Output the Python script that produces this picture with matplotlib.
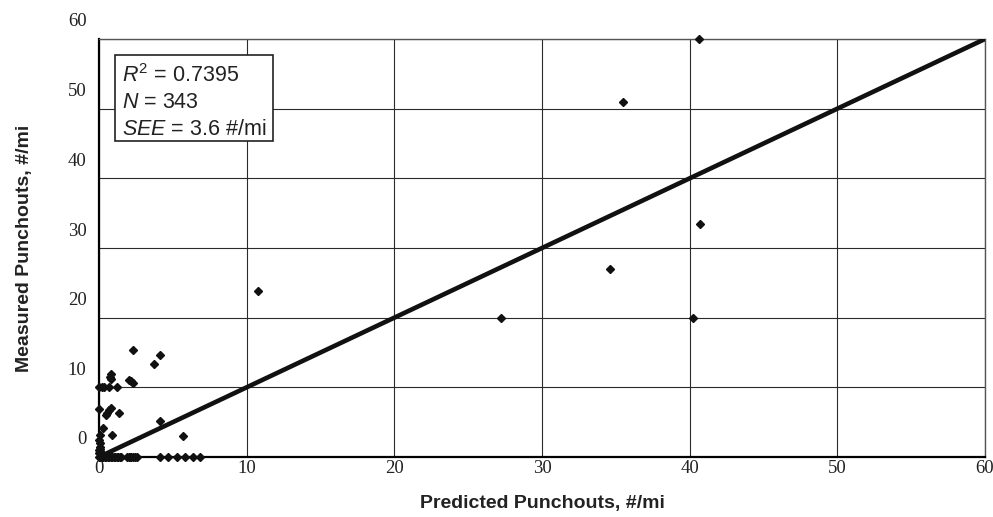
import matplotlib
matplotlib.use("Agg")
import matplotlib.pyplot as plt
from matplotlib.transforms import ScaledTranslation
from matplotlib.patches import Rectangle

plt.rcParams['mathtext.fontset'] = 'custom'
plt.rcParams['mathtext.rm'] = 'Liberation Sans'
plt.rcParams['mathtext.it'] = 'Liberation Sans:italic'

# Data (predicted, measured punchouts per mile)
predicted = [40.6, 35.5, 40.7, 34.6, 27.2, 40.2, 10.8,
             2.3, 4.1, 3.7, 0.8, 0.75, 0.8, 2.05, 2.2, 2.3,
             0.0, 0.2, 0.35, 0.7, 1.25,
             0.0, 0.8, 0.7, 0.55, 0.45, 1.35, 4.1, 0.3, 0.85, 5.7, 0.1,
             0.0, 0.05, 0.1, 0.0, 0.15, 0.05, 0.1, 0.2, 0.0, 0.3,
             0.0, 0.1, 0.2, 0.3, 0.4, 0.5, 0.6, 0.7, 0.8, 0.9, 1.0, 1.1, 1.2,
             1.3, 1.4, 1.5, 1.9, 2.0, 2.1, 2.2, 2.3, 2.45, 2.55,
             4.1, 4.65, 5.25, 5.8, 6.35, 6.85]
measured = [60.0, 51.0, 33.4, 27.0, 20.0, 20.0, 23.8,
            15.4, 14.6, 13.4, 11.9, 11.5, 11.2, 11.1, 10.9, 10.6,
            10.0, 10.0, 10.0, 10.0, 10.0,
            6.9, 7.0, 6.7, 6.3, 6.0, 6.3, 5.2, 4.1, 3.2, 3.0, 3.2,
            1.0, 1.5, 2.0, 2.5, 0.5, 1.2, 0.8, 0.3, 0.6, 0.2,
            0, 0, 0, 0, 0, 0, 0, 0, 0, 0, 0, 0, 0,
            0, 0, 0, 0, 0, 0, 0, 0, 0, 0,
            0, 0, 0, 0, 0, 0]
line_of_equality = [0, 60]
x_ticks = [0, 10, 20, 30, 40, 50, 60]
y_ticks = [0, 10, 20, 30, 40, 50, 60]

fig = plt.figure(figsize=(9.93, 5.17), dpi=100)
ax = fig.add_axes([99/993, 1-457/517, 886/993, 418/517])

ax.set_xlim(0, 60)
ax.set_ylim(0, 60)
ax.set_xticks(x_ticks)
ax.set_yticks(y_ticks)
ax.grid(True, color='#2a2a2a', linewidth=0.8)
ax.set_axisbelow(True)

ax.plot(line_of_equality, line_of_equality, color='#111111', linewidth=3.3, zorder=3,
        solid_capstyle='butt')
ax.plot(predicted, measured, linestyle='none', marker='D', markersize=4.4,
        color='#111111', clip_on=False, zorder=4)

for s in ['left', 'bottom']:
    ax.spines[s].set_linewidth(1.6)
for s in ['top', 'right']:
    ax.spines[s].set_linewidth(1.0)
    ax.spines[s].set_color('#555555')

ax.tick_params(axis='both', length=0)
ax.tick_params(axis='x', pad=2)
ax.tick_params(axis='y', pad=9)
for lab in ax.get_xticklabels() + ax.get_yticklabels():
    lab.set_fontfamily('Liberation Serif')
    lab.set_fontsize(13.5)
    lab.set_color('#222222')
offset = ScaledTranslation(0, 19/100, fig.dpi_scale_trans)
for lab in ax.get_yticklabels():
    lab.set_transform(lab.get_transform() + offset)

ax.set_xlabel('Predicted Punchouts, #/mi', fontfamily='Liberation Sans',
              fontweight='bold', fontsize=14, color='#222222')
ax.set_ylabel('Measured Punchouts, #/mi', fontfamily='Liberation Sans',
              fontweight='bold', fontsize=14, color='#222222')
ax.xaxis.set_label_coords(0.501, -0.09)
ax.yaxis.set_label_coords(-0.075, 0.5)

box = Rectangle((16/886, 1-(141-39)/418), (273-115)/886, (141-55)/418,
                transform=ax.transAxes, facecolor='white', edgecolor='#222222',
                linewidth=1.2, zorder=5, clip_on=False)
ax.add_patch(box)
txt_kw = dict(transform=ax.transAxes, fontfamily='Liberation Sans', fontsize=15.5,
              color='#222222', zorder=6, va='baseline', ha='left')
ax.text(23/886, (457-82)/418, r'$R^2$ = 0.7395', **txt_kw)
ax.text(23/886, (457-108)/418, r'$N$ = 343', **txt_kw)
ax.text(23/886, (457-135)/418, r'$SEE$ = 3.6 #/mi', **txt_kw)

fig.savefig('out.png', dpi=100)
